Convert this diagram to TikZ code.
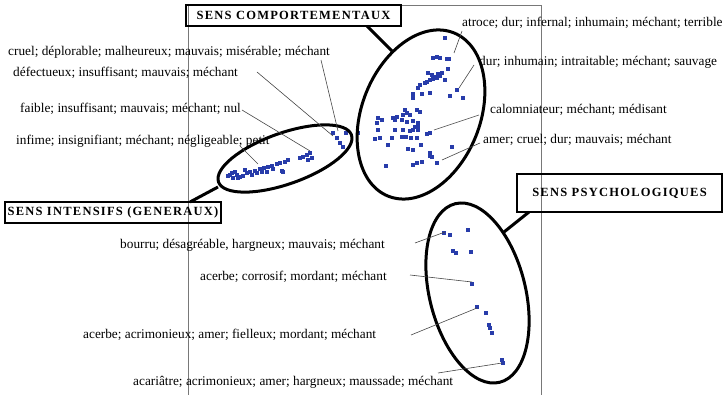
\documentclass[tikz,border=0pt]{standalone}
\usepackage{fontspec}
\setmainfont{Liberation Serif}
\newfontfamily\titlefont[LetterSpace=10]{Liberation Serif}
\usetikzlibrary{shapes.geometric}
\definecolor{dotblue}{RGB}{40,60,170}
\definecolor{framegray}{RGB}{120,120,120}
\definecolor{leadgray}{RGB}{70,70,70}
\begin{document}
\begin{tikzpicture}[x=1pt,y=-1pt,
  lbl/.style={anchor=base west, inner sep=0, font=\fontsize{13.3}{15}\selectfont},
  titlebox/.style={draw, line width=2.6pt, inner sep=0, font=\titlefont\bfseries\fontsize{12.5}{14}\selectfont},
  grp/.style={draw, ellipse, line width=3pt, inner sep=0},
  leader/.style={draw=leadgray, line width=0.6pt},
  link/.style={line width=3pt}
]
\useasboundingbox (0,0) rectangle (724,395);
% frame of the plot
\draw[framegray, line width=0.8pt] (188,395) -- (188,5) -- (541,5) -- (541,395);

% data points
\foreach \p in {(333,133),(337,138),(340,143),(343,147),(346,133),
  (228,176),(232,173),(235,172),(237,175),(238,178),(240,177),(243,176),(247,173),(250,172),(252,175),
  (255,171),(257,173),(260,169),(262,172),(264,168),(267,172),(268,167),(272,166),(273,169),(277,164),
  (280,163),(282,171),(285,162),(288,160),(300,158),(303,157),(307,155),(310,153),(312,158),(308,160),
  (245,170),(233,178),(230,175),(283,172),
  (445,38),(433,58),(437,57),(440,58),(447,59),(449,59),(448,69),
  (428,73),(432,75),(435,77),(438,74),(442,73),(437,78),(430,80),(427,82),(425,83),(433,79),(440,76),
  (445,80),(420,85),(418,88),(430,93),(422,94),(413,94),(413,98),(457,90),(450,96),(463,98),
  (378,118),(382,120),(377,123),(393,118),(397,117),(395,120),(403,115),(405,110),(407,113),(410,115),
  (417,110),(420,112),(402,120),(407,122),(413,121),(418,123),(415,127),(378,130),(395,130),(403,130),
  (410,131),(413,130),(418,130),(418,127),(427,134),(430,133),(375,139),(380,138),(392,138),(402,137),
  (406,137),(411,138),(417,138),(388,145),(421,145),(408,149),(413,150),(452,147),(430,153),(430,156),
  (432,157),(386,166),(413,165),(417,163),(422,162),(437,163),(358,133),
  (444,233),(450,235),(468,230),(453,251),(456,253),(471,252),(472,284),(477,307),(486,313),(489,325),
  (490,328),(492,333),(502,360),(503,363)}
  \fill[dotblue] \p ++(-2.3,-2.3) rectangle ++(4.6,4.6);

% group ellipses
\node[grp, minimum width=141, minimum height=51, rotate=19.5] (eI) at (285,158.5) {};
\node[grp, minimum width=176, minimum height=118, rotate=68] (eC) at (421,114.5) {};
\node[grp, minimum width=184, minimum height=96, rotate=104] (eP) at (477.5,293) {};

% title boxes
\node[titlebox, minimum width=215, minimum height=21] (tC) at (293.5,15.5) {SENS COMPORTEMENTAUX};
\node[titlebox, minimum width=216, minimum height=21] (tI) at (113,212.5) {SENS INTENSIFS (GENERAUX)};
\node[titlebox, minimum width=205, minimum height=38] (tP) at (619.5,193) {SENS PSYCHOLOGIQUES};

% thick links from boxes to ellipses
\coordinate (cCs) at (367,26); \coordinate (cCe) at (393,52);
\coordinate (cIs) at (190,202); \coordinate (cIe) at (218,187);
\coordinate (cPs) at (529,212); \coordinate (cPe) at (504,232);
\draw[link] (cCs) -- (cCe);
\draw[link] (cIs) -- (cIe);
\draw[link] (cPs) -- (cPe);

% labels
\node[lbl] (lab1) at (8,56) {cruel; déplorable; malheureux; mauvais; misérable; méchant};
\node[lbl] (lab2) at (13,77) {défectueux; insuffisant; mauvais; méchant};
\node[lbl] (lab3) at (20,113) {faible; insuffisant; mauvais; méchant; nul};
\node[lbl] (lab4) at (16,145) {infime; insignifiant; méchant; négligeable; petit};
\node[lbl] (lab5) at (462,27) {atroce; dur; infernal; inhumain; méchant; terrible};
\node[lbl] (lab6) at (479,66) {dur; inhumain; intraitable; méchant; sauvage};
\node[lbl] (lab7) at (490,114) {calomniateur; méchant; médisant};
\node[lbl] (lab8) at (483,144) {amer; cruel; dur; mauvais; méchant};
\node[lbl] (lab9) at (120,249) {bourru; désagréable, hargneux; mauvais; méchant};
\node[lbl] (lab10) at (200,281) {acerbe; corrosif; mordant; méchant};
\node[lbl] (lab11) at (83,339) {acerbe; acrimonieux; amer; fielleux; mordant; méchant};
\node[lbl] (lab12) at (133,386) {acariâtre; acrimonieux; amer; hargneux; maussade; méchant};

% leader lines
\coordinate (l1s) at (321,60);  \coordinate (l1e) at (338,131);
\coordinate (l2s) at (257,72);  \coordinate (l2e) at (333,136);
\coordinate (l3s) at (242,110); \coordinate (l3e) at (310,151);
\coordinate (l4s) at (240,146); \coordinate (l4e) at (258,164);
\coordinate (l5s) at (462,31);  \coordinate (l5e) at (454,53);
\coordinate (l6s) at (474,65);  \coordinate (l6e) at (459,88);
\coordinate (l7s) at (479,115); \coordinate (l7e) at (434,130);
\coordinate (l8s) at (480,143); \coordinate (l8e) at (442,160);
\coordinate (l9s) at (415,243); \coordinate (l9e) at (445,232);
\coordinate (l10s) at (410,275); \coordinate (l10e) at (472,282);
\coordinate (l11s) at (411,335); \coordinate (l11e) at (477,308);
\coordinate (l12s) at (438,373); \coordinate (l12e) at (502,363);
\foreach \i in {1,...,12} \draw[leader] (l\i s) -- (l\i e);
\end{tikzpicture}
\end{document}
